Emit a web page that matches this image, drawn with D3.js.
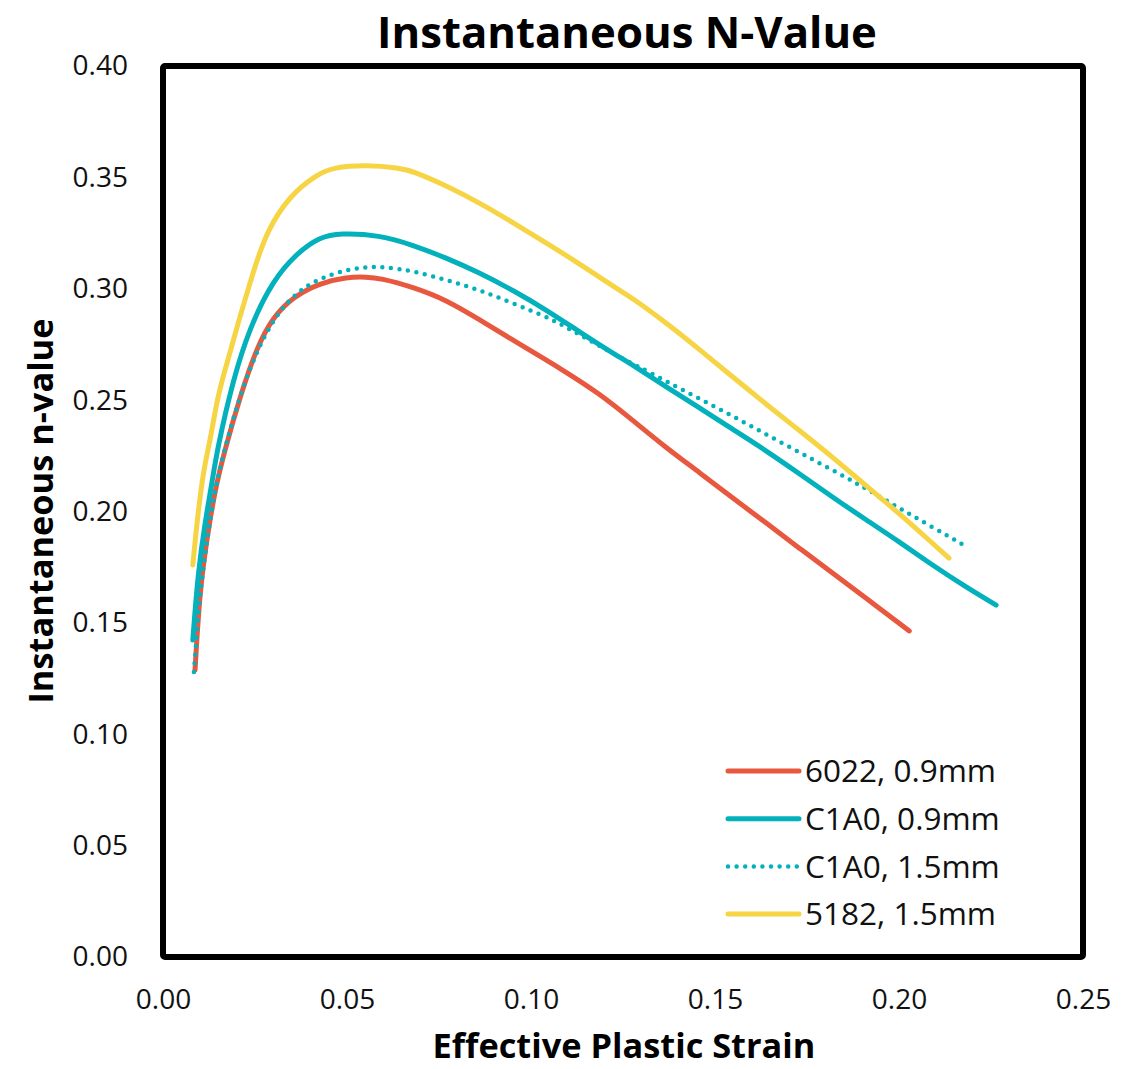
<!DOCTYPE html>
<html>
<head>
<meta charset="utf-8">
<script src="https://cdn.jsdelivr.net/npm/d3@7"></script>
<style>
  html, body { margin: 0; padding: 0; background: #fff; }
  #nValueChart { width: 1135px; height: 1069px; }
  text { font-family: 'Open Sans', 'Noto Sans', sans-serif; }
</style>
</head>
<body>
<div id="nValueChart"></div>
<script>
/* ---------- Data ---------- */
const seriesNames = ["6022, 0.9mm", "C1A0, 0.9mm", "C1A0, 1.5mm", "5182, 1.5mm"];

const strain6022 = [0.0087, 0.0100, 0.0119, 0.0141, 0.0168, 0.0209, 0.0255, 0.0299, 0.0353, 0.0426, 0.0500, 0.0554, 0.0589, 0.0679, 0.0771, 0.0861, 0.0950, 0.1042, 0.1086, 0.1186, 0.1276, 0.1368, 0.1458, 0.1547, 0.1640, 0.1729, 0.1819, 0.1911, 0.2028];
const n6022      = [0.1288, 0.1648, 0.1872, 0.2097, 0.2276, 0.2514, 0.2738, 0.2873, 0.2963, 0.3026, 0.3053, 0.3053, 0.3048, 0.3008, 0.2949, 0.2860, 0.2770, 0.2680, 0.2635, 0.2530, 0.2410, 0.2285, 0.2175, 0.2062, 0.1948, 0.1835, 0.1725, 0.1610, 0.1464];

const strainC1A009 = [0.0081, 0.0095, 0.0114, 0.0133, 0.0147, 0.0190, 0.0236, 0.0299, 0.0364, 0.0426, 0.0480, 0.0589, 0.0679, 0.0771, 0.0861, 0.0950, 0.1042, 0.1132, 0.1222, 0.1276, 0.1368, 0.1458, 0.1547, 0.1640, 0.1729, 0.1819, 0.1911, 0.2000, 0.2090, 0.2182, 0.2264];
const nC1A009      = [0.1423, 0.1724, 0.1948, 0.2128, 0.2276, 0.2590, 0.2828, 0.3039, 0.3160, 0.3232, 0.3250, 0.3241, 0.3196, 0.3138, 0.3071, 0.2994, 0.2905, 0.2806, 0.2711, 0.2658, 0.2559, 0.2465, 0.2370, 0.2272, 0.2170, 0.2065, 0.1962, 0.1865, 0.1760, 0.1661, 0.1580];

const strainC1A015 = [0.0084, 0.0100, 0.0119, 0.0141, 0.0168, 0.0209, 0.0263, 0.0318, 0.0364, 0.0407, 0.0472, 0.0543, 0.0603, 0.0679, 0.0771, 0.0861, 0.0950, 0.1042, 0.1086, 0.1186, 0.1276, 0.1322, 0.1412, 0.1504, 0.1593, 0.1683, 0.1775, 0.1857, 0.1911, 0.2000, 0.2090, 0.2185];
const nC1A015      = [0.1280, 0.1625, 0.1863, 0.2097, 0.2285, 0.2523, 0.2756, 0.2905, 0.2981, 0.3030, 0.3075, 0.3098, 0.3098, 0.3080, 0.3039, 0.2994, 0.2936, 0.2873, 0.2837, 0.2743, 0.2662, 0.2626, 0.2545, 0.2467, 0.2388, 0.2307, 0.2225, 0.2152, 0.2102, 0.2016, 0.1930, 0.1841];

const strain5182 = [0.0081, 0.0092, 0.0109, 0.0122, 0.0128, 0.0147, 0.0163, 0.0201, 0.0244, 0.0282, 0.0345, 0.0418, 0.0462, 0.0554, 0.0643, 0.0679, 0.0771, 0.0861, 0.0950, 0.1042, 0.1132, 0.1222, 0.1276, 0.1368, 0.1458, 0.1547, 0.1640, 0.1729, 0.1819, 0.1911, 0.2000, 0.2090, 0.2136];
const n5182      = [0.1760, 0.1948, 0.2173, 0.2276, 0.2321, 0.2500, 0.2604, 0.2828, 0.3071, 0.3260, 0.3420, 0.3512, 0.3545, 0.3556, 0.3542, 0.3528, 0.3462, 0.3385, 0.3298, 0.3205, 0.3112, 0.3012, 0.2958, 0.2846, 0.2727, 0.2606, 0.2480, 0.2364, 0.2245, 0.2115, 0.1992, 0.1859, 0.1791];

const xTicks = [0, 0.05, 0.10, 0.15, 0.20, 0.25];
const yTicks = [0, 0.05, 0.10, 0.15, 0.20, 0.25, 0.30, 0.35, 0.40];

/* ---------- helper: size a label so it fills a given width ---------- */
function fitText(sel, targetWidth, baseSize) {
  sel.style("font-size", baseSize + "px");
  const w = sel.node().getComputedTextLength();
  if (w > 0) sel.style("font-size", (baseSize * targetWidth / w).toFixed(2) + "px");
}

/* ---------- Chart ---------- */
function drawNValueChart() {
  const width = 1135;
  const height = 1069;
  const margin = { top: 66, right: 52, bottom: 112, left: 163 };
  const innerW = width - margin.left - margin.right;
  const innerH = height - margin.top - margin.bottom;

  const svg = d3.select("#nValueChart").append("svg")
    .attr("width", width)
    .attr("height", height);

  const g = svg.append("g")
    .attr("transform", `translate(${margin.left},${margin.top})`);

  const x = d3.scaleLinear().domain([0, 0.25]).range([0, innerW]);
  const y = d3.scaleLinear().domain([0, 0.40]).range([innerH, 0]);

  const series = [
    { name: seriesNames[0], xs: strain6022,   ys: n6022,   color: "#E8583F", dotted: false },
    { name: seriesNames[1], xs: strainC1A009, ys: nC1A009, color: "#03B1BC", dotted: false },
    { name: seriesNames[2], xs: strainC1A015, ys: nC1A015, color: "#03B1BC", dotted: true },
    { name: seriesNames[3], xs: strain5182,   ys: n5182,   color: "#F6D443", dotted: false }
  ];

  // Y Axis
  g.append("g")
    .call(d3.axisLeft(y).tickValues(yTicks).tickFormat(d3.format(".2f")).tickSize(0).tickPadding(35))
    .call(a => a.select(".domain").remove())
    .selectAll("text")
    .style("font-size", "28px")
    .style("font-family", "'Open Sans', sans-serif")
    .style("fill", "#111");

  // X Axis
  g.append("g")
    .attr("transform", `translate(0,${innerH})`)
    .call(d3.axisBottom(x).tickValues(xTicks).tickFormat(d3.format(".2f")).tickSize(0).tickPadding(32))
    .call(a => a.select(".domain").remove())
    .selectAll("text")
    .style("font-size", "28px")
    .style("font-family", "'Open Sans', sans-serif")
    .style("fill", "#111");

  // Lines
  const line = d3.line()
    .x(d => x(d[0]))
    .y(d => y(d[1]))
    .curve(d3.curveBasis);

  series.forEach(s => {
    const pts = s.xs.map((v, i) => [v, s.ys[i]]);
    g.append("path")
      .datum(pts)
      .attr("fill", "none")
      .attr("stroke", s.color)
      .attr("stroke-width", s.dotted ? 4.5 : 5)
      .attr("stroke-linecap", "round")
      .attr("stroke-linejoin", "round")
      .attr("stroke-dasharray", s.dotted ? "0,8.6" : null)
      .attr("d", line);
  });

  // Plot border
  g.append("rect")
    .attr("x", 0)
    .attr("y", 0)
    .attr("width", innerW)
    .attr("height", innerH)
    .attr("rx", 2)
    .attr("fill", "none")
    .attr("stroke", "#000")
    .attr("stroke-width", 6);

  // Legend
  const legend = g.append("g")
    .attr("transform", `translate(${728 - margin.left}, ${771 - margin.top})`);

  const items = legend.selectAll(".legend-item")
    .data(series)
    .enter().append("g")
    .attr("transform", (d, i) => `translate(0, ${i * 47.7})`);

  items.append("line")
    .attr("x1", 0).attr("x2", 71)
    .attr("y1", 0).attr("y2", 0)
    .attr("stroke", d => d.color)
    .attr("stroke-width", d => d.dotted ? 4.5 : 5)
    .attr("stroke-linecap", "round")
    .attr("stroke-dasharray", d => d.dotted ? "0,8.6" : null);

  items.append("text")
    .attr("x", 77)
    .attr("y", 0)
    .attr("dy", "0.36em")
    .text(d => d.name)
    .style("font-size", "31.5px")
    .style("fill", "#111");

  // Title
  svg.append("text")
    .attr("x", margin.left + innerW / 2 + 4)
    .attr("y", 48)
    .attr("text-anchor", "middle")
    .text("Instantaneous N-Value")
    .style("font-weight", "700")
    .style("fill", "#000")
    .call(t => fitText(t, 500, 40));

  // X title
  svg.append("text")
    .attr("x", margin.left + innerW / 2 + 1)
    .attr("y", 1058)
    .attr("text-anchor", "middle")
    .text("Effective Plastic Strain")
    .style("font-weight", "700")
    .style("fill", "#000")
    .call(t => fitText(t, 383, 32));

  // Y title
  svg.append("text")
    .attr("transform", `translate(53, 511) rotate(-90)`)
    .attr("text-anchor", "middle")
    .text("Instantaneous n-value")
    .style("font-weight", "700")
    .style("fill", "#000")
    .call(t => fitText(t, 385, 32));
}

drawNValueChart();
</script>
</body>
</html>
